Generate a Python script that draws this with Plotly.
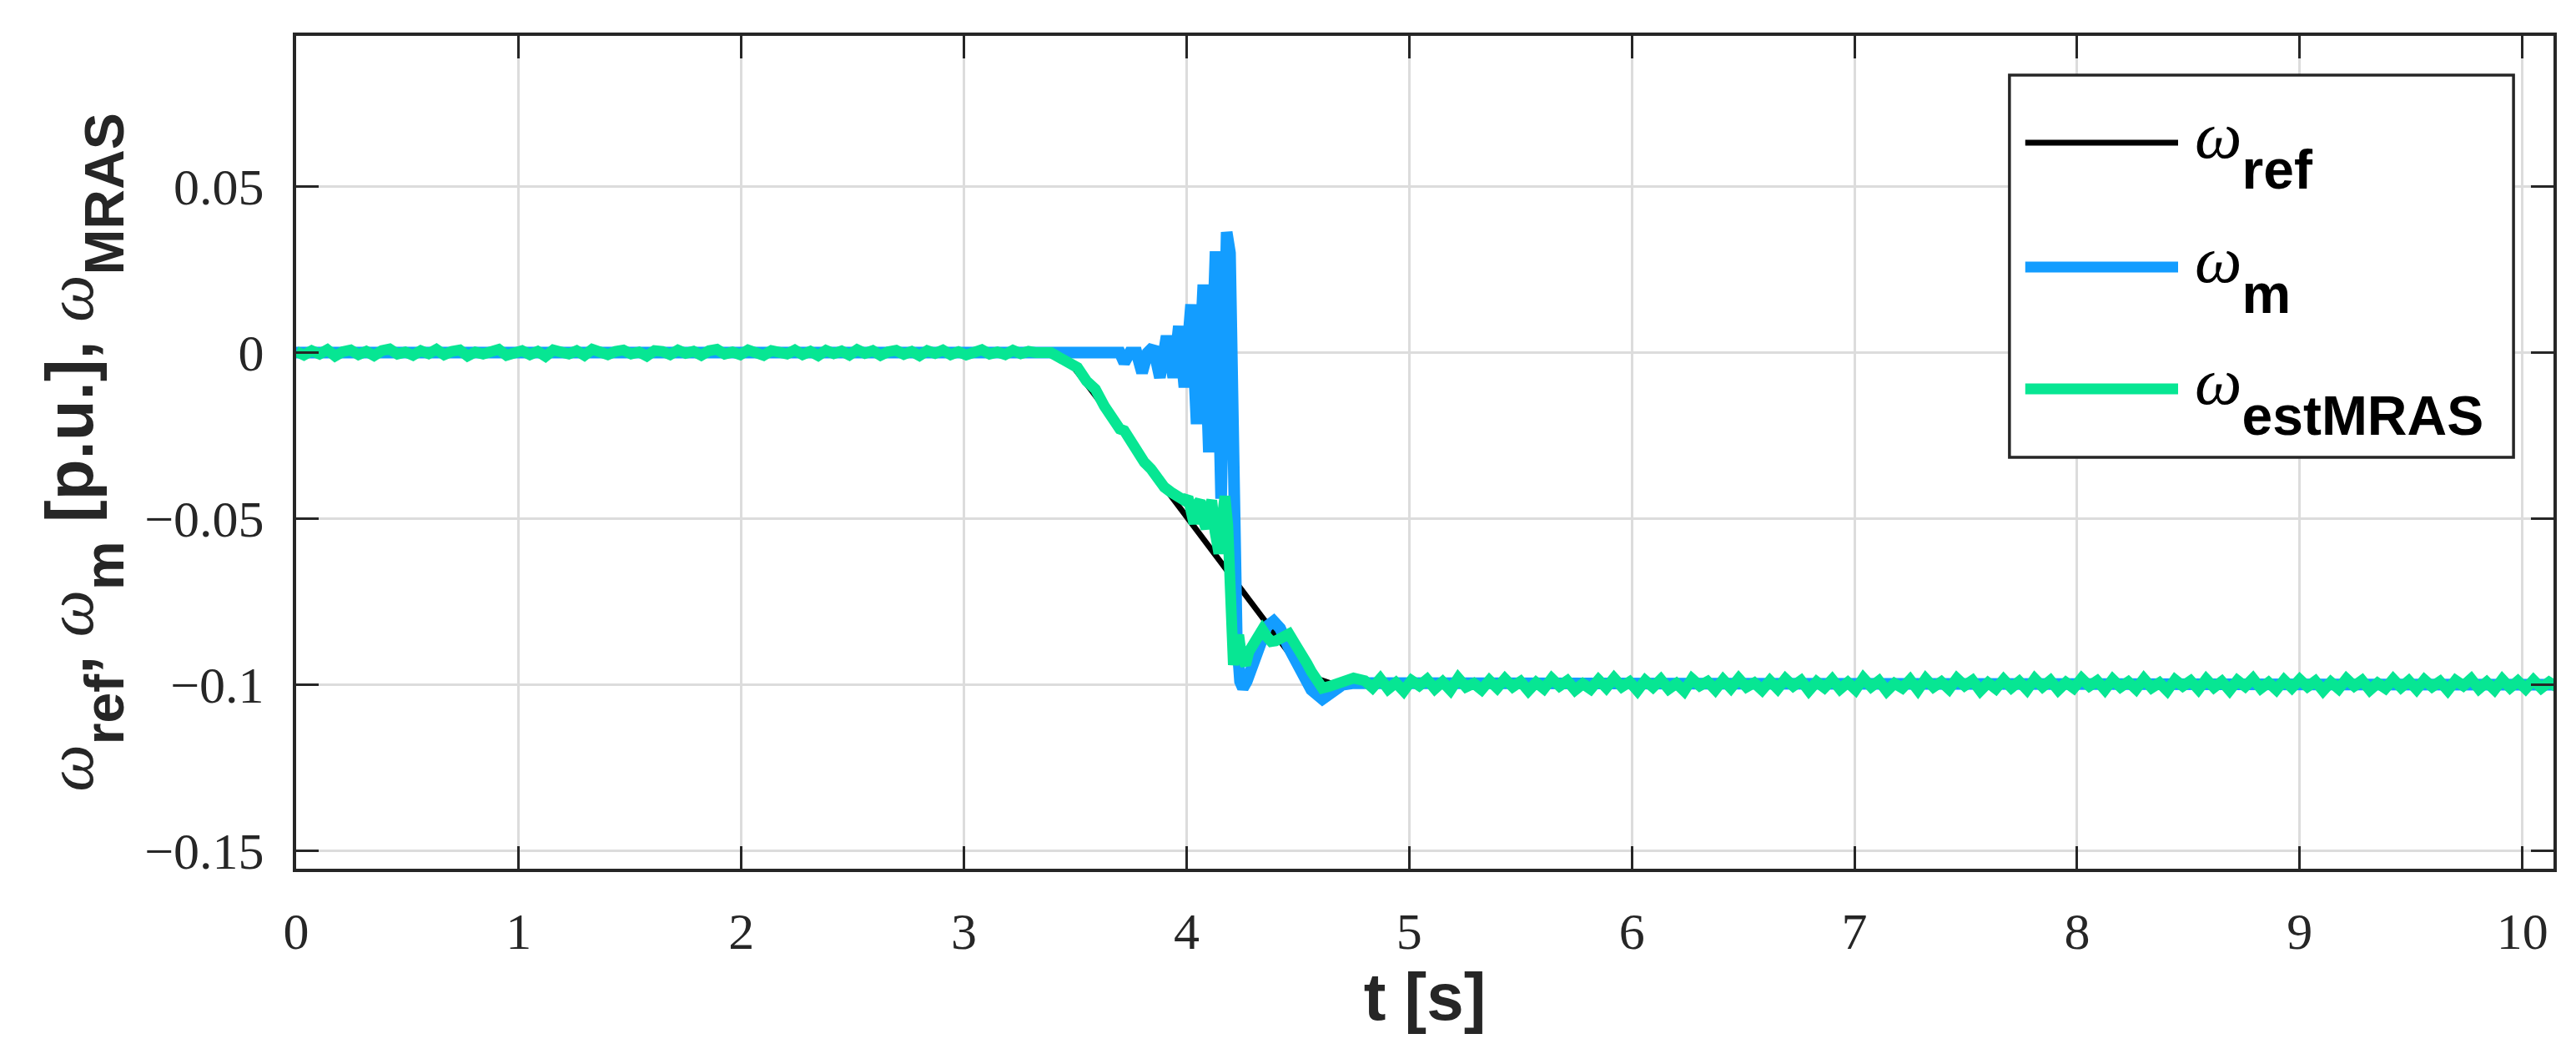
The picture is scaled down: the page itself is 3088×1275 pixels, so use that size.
import plotly.graph_objects as go

# --- data (t in s, speeds in p.u.) ---
series_names = ["ref", "m", "estMRAS"]
series_colors = ["#000000", "#139DFF", "#07E693"]

# speed reference: flat, S-shaped ramp to -0.1, flat
t_ref = [0.0, 3.38, 3.45, 3.50, 3.58, 3.70, 3.80, 3.90, 4.00, 4.10, 4.235,
         4.35, 4.45, 4.50, 4.55, 4.60, 4.65, 4.70, 10.14]
w_ref = [0.0, 0.0, -0.0015, -0.005, -0.012, -0.0225, -0.0316, -0.0405, -0.0494,
         -0.0583, -0.0703, -0.0810, -0.0895, -0.0935, -0.0965, -0.0985, -0.0996,
         -0.1, -0.1]

# measured speed: flat, growing oscillation, drop, overshoot, settle
t_m = [0.0, 3.70, 3.72, 3.745, 3.775, 3.80, 3.825, 3.85, 3.88, 3.91, 3.94, 3.965,
       3.99, 4.02, 4.045, 4.075, 4.10, 4.13, 4.155, 4.18, 4.195, 4.21, 4.225,
       4.24, 4.253, 4.27, 4.30, 4.33, 4.36, 4.391, 4.42, 4.46, 4.51, 4.56, 4.61,
       4.65, 4.70, 4.75, 10.14]
w_m = [0.0, 0.0, -0.003, 0.0, 0.0, -0.006, 0.0, 0.0017, -0.0075, 0.005, -0.0075,
       0.008, -0.0104, 0.0145, -0.0215, 0.0205, -0.030, 0.0305, -0.044, 0.0363,
       0.030, -0.040, -0.085, -0.099, -0.101, -0.099, -0.093, -0.087, -0.0825,
       -0.0809, -0.083, -0.089, -0.0956, -0.1015, -0.1043, -0.102, -0.1, -0.0995,
       -0.1]

# MRAS estimate, first flat part sampled every 0.035 s from t = 0
est_start_t0, est_start_dt = 0.0, 0.035
w_est_start = [0.0004, -0.0007, 0.0006, -0.0004, 0.0009, -0.0010, 0.0003, 0.0008, -0.0006, 0.0004,
               -0.0009, 0.0006, 0.0011, -0.0004, 0.0002, -0.0008, 0.0006, -0.0003, 0.0010, -0.0006,
               0.0004, 0.0008, -0.0010, 0.0002, -0.0004, 0.0006, 0.0010, -0.0008, 0.0001, 0.0006,
               -0.0006, 0.0004, -0.0011, 0.0008, 0.0002, -0.0004, 0.0006, -0.0008, 0.0010, 0.0000,
               -0.0006, 0.0004, 0.0008, -0.0004, 0.0002, -0.0010, 0.0006, 0.0004, -0.0006, 0.0008,
               -0.0002, 0.0004, -0.0008, 0.0006, 0.0010, -0.0004, 0.0002, -0.0006, 0.0008, 0.0000,
               -0.0008, 0.0006, 0.0002, -0.0004, 0.0008, -0.0006, 0.0004, -0.0009, 0.0007, -0.0003,
               0.0005, -0.0007, 0.0009, -0.0002, 0.0006, -0.0008, 0.0003, 0.0007, -0.0005, 0.0004,
               -0.0009, 0.0006, -0.0002, 0.0008, -0.0006, 0.0003, -0.0007, 0.0005, 0.0009, -0.0004,
               0.0002, -0.0006, 0.0007, -0.0003, 0.0004, 0.0000]

# MRAS estimate during the transient
t_est_mid = [3.39, 3.43, 3.47, 3.51, 3.55, 3.59, 3.63, 3.66, 3.70, 3.72, 3.75,
             3.78, 3.81, 3.84, 3.87, 3.90, 3.93, 3.96, 3.99, 4.006, 4.02, 4.033,
             4.045, 4.06, 4.075, 4.087, 4.10, 4.113, 4.128, 4.145, 4.158, 4.172,
             4.185, 4.198, 4.21, 4.222, 4.234, 4.248, 4.265, 4.28, 4.30, 4.32,
             4.34, 4.36, 4.38, 4.40, 4.43, 4.46, 4.49, 4.51, 4.54, 4.56, 4.59,
             4.61, 4.64, 4.67, 4.71, 4.75]
w_est_mid = [0.0, -0.0015, -0.003, -0.0045, -0.0085, -0.011, -0.016, -0.0195,
             -0.023, -0.0235, -0.027, -0.031, -0.033, -0.035, -0.038, -0.0405,
             -0.042, -0.0435, -0.0445, -0.0435, -0.049, -0.0515, -0.046, -0.0445,
             -0.0505, -0.053, -0.047, -0.0445, -0.054, -0.0605, -0.051, -0.0432,
             -0.052, -0.088, -0.094, -0.089, -0.085, -0.092, -0.094, -0.090,
             -0.088, -0.0855, -0.0834, -0.0855, -0.087, -0.0868, -0.0855, -0.0847,
             -0.088, -0.091, -0.0935, -0.096, -0.0995, -0.101, -0.1005, -0.100,
             -0.0995, -0.098]

# MRAS estimate, settled part sampled every 0.035 s from t = 4.80
est_end_t0, est_end_dt = 4.80, 0.035
w_est_end = [-0.0988, -0.1009, -0.0982, -0.1013, -0.0994, -0.1019, -0.0987, -0.1003, -0.0984, -0.1012,
             -0.0991, -0.1016, -0.0980, -0.1007, -0.0996, -0.1015, -0.0987, -0.1010, -0.0982, -0.1006,
             -0.0990, -0.1018, -0.0993, -0.1012, -0.0981, -0.1004, -0.0988, -0.1016, -0.0997, -0.1013,
             -0.0985, -0.1009, -0.0980, -0.1006, -0.0991, -0.1018, -0.0987, -0.1007, -0.0984, -0.1013,
             -0.0996, -0.1019, -0.0982, -0.1003, -0.0990, -0.1015, -0.0985, -0.1010, -0.0981, -0.1007,
             -0.0994, -0.1016, -0.0988, -0.1012, -0.0982, -0.1004, -0.0987, -0.1018, -0.0991, -0.1009,
             -0.0984, -0.1013, -0.0993, -0.1015, -0.0980, -0.1006, -0.0988, -0.1019, -0.0996, -0.1010,
             -0.0985, -0.1016, -0.0982, -0.1007, -0.0991, -0.1013, -0.0981, -0.1003, -0.0987, -0.1018,
             -0.0994, -0.1012, -0.0984, -0.1009, -0.0990, -0.1015, -0.0982, -0.1006, -0.0987, -0.1016,
             -0.0993, -0.1010, -0.0981, -0.1004, -0.0988, -0.1015, -0.0984, -0.1007, -0.0991, -0.1013,
             -0.0982, -0.1009, -0.0994, -0.1018, -0.0985, -0.1004, -0.0988, -0.1014, -0.0983, -0.1008,
             -0.0990, -0.1017, -0.0987, -0.1005, -0.0981, -0.1011, -0.0993, -0.1015, -0.0986, -0.1009,
             -0.0984, -0.1006, -0.0989, -0.1018, -0.0992, -0.1012, -0.0982, -0.1004, -0.0987, -0.1016,
             -0.0995, -0.1011, -0.0983, -0.1008, -0.0988, -0.1014, -0.0985, -0.1006, -0.0990, -0.1017,
             -0.0987, -0.1003, -0.0982, -0.1012, -0.0992, -0.1015, -0.0984, -0.1009, -0.0989, -0.1012,
             -0.0986, -0.1010, -0.0992, -0.1007]

x_ticks = [0, 1, 2, 3, 4, 5, 6, 7, 8, 9, 10]
y_ticks = [-0.15, -0.1, -0.05, 0, 0.05]
y_ticktext = ["\u22120.15", "\u22120.1", "\u22120.05", "0", "0.05"]

t_est = ([est_start_t0 + i * est_start_dt for i in range(len(w_est_start))]
         + t_est_mid
         + [est_end_t0 + i * est_end_dt for i in range(len(w_est_end))])
w_est = w_est_start + w_est_mid + w_est_end

INK = "#262626"
SANS = "Liberation Sans"
SERIF = "Liberation Serif"
OMEGA = ('<span style="font-family:Liberation Serif;font-style:italic;'
         'font-weight:normal">\u03c9</span>')


def omega(sub):
    # three nested <sub> tags push the subscript as low as in the original
    return (OMEGA + '<sub><sub><sub><span style="font-size:66px">' + sub
            + "</span></sub></sub></sub>")


fig = go.Figure()
traces = [(t_ref, w_ref, 7), (t_m, w_m, 14), (t_est, w_est, 13)]
for (tx, wy, lw), name, col in zip(traces, series_names, series_colors):
    fig.add_trace(go.Scatter(x=tx, y=wy, mode="lines", name=name,
                             line=dict(color=col, width=lw), showlegend=False))

fig.update_layout(
    width=3088, height=1275,
    margin=dict(l=347, r=35, t=35, b=242),
    plot_bgcolor="white", paper_bgcolor="white",
    font=dict(family=SERIF, size=62, color=INK),
)

axis_style = dict(
    showline=True, linecolor=INK, linewidth=4, mirror="ticks",
    ticks="inside", ticklen=27, tickwidth=3, tickcolor=INK,
    showgrid=True, gridcolor="#dcdcdc", gridwidth=3, zeroline=False,
    tickfont=dict(family=SERIF, size=62, color=INK),
)
fig.update_xaxes(
    range=[0, 10.14], tickvals=x_ticks, ticklabelstandoff=18,
    title=dict(text="t [s]", standoff=18,
               font=dict(family=SANS, size=80, weight="bold", color=INK)),
    **axis_style)
fig.update_yaxes(
    range=[-0.1554, 0.0954], tickvals=y_ticks, ticktext=y_ticktext,
    ticklabelstandoff=22,
    title=dict(text=omega("ref") + ", " + omega("m") + " [p.u.], " + omega("MRAS"),
               standoff=36,
               font=dict(family=SANS, size=80, weight="bold", color=INK)),
    **axis_style)

# legend drawn by hand so the sample lines can be long and thick like the original
fig.add_shape(type="rect", xref="paper", yref="paper", x0=0.759, x1=0.9823,
              y0=0.494, y1=0.953, line=dict(color=INK, width=3.5),
              fillcolor="white", layer="above")
leg_y = [0.8717, 0.7224, 0.5762]
leg_w = [7, 13, 13]
for name, col, ly, lw in zip(series_names, series_colors, leg_y, leg_w):
    fig.add_shape(type="line", xref="paper", yref="paper", x0=0.766, x1=0.8337,
                  y0=ly, y1=ly, line=dict(color=col, width=lw), layer="above")
    fig.add_annotation(xref="paper", yref="paper", x=0.8404, y=ly,
                       xanchor="left", yanchor="middle", showarrow=False,
                       text=omega(name), yshift=-8,
                       font=dict(family=SANS, size=80, weight="bold", color="black"))

fig.write_html("out.html")
